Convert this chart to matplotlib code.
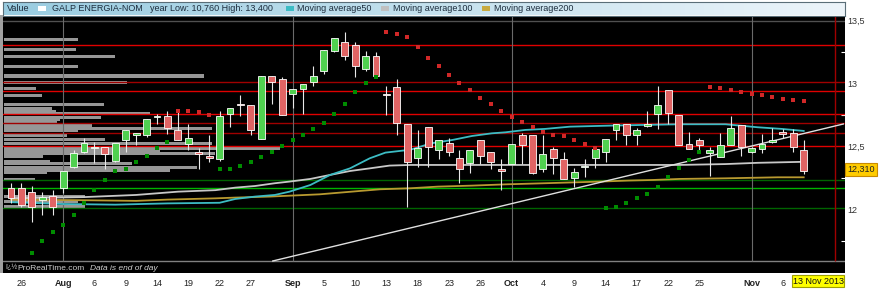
import matplotlib
matplotlib.use('Agg')
import matplotlib.pyplot as plt
from matplotlib.patches import Rectangle
import numpy as np

plt.rcParams['font.family'] = ['Liberation Sans', 'DejaVu Sans']

# GALP ENERGIA-NOM, daily candles 25 Jul 2013 .. 8 Nov 2013 (index = trading day)
opens = [12.17, 12.17, 12.14, 12.08, 12.11, 12.17, 12.34, 12.46, 12.49, 12.50,
         12.39, 12.55, 12.59, 12.59, 12.735, 12.74, 12.63, 12.52, 12.46, 12.43,
         12.40, 12.76, 12.84, 12.83, 12.56, 13.06, 13.04, 12.92, 12.96, 13.01,
         13.10, 13.26, 13.33, 13.31, 13.12, 13.22, 12.92, 12.97, 12.68, 12.41,
         12.66, 12.47, 12.53, 12.41, 12.37, 12.55, 12.46, 12.32, 12.36, 12.59,
         12.59, 12.32, 12.48, 12.40, 12.25, 12.34, 12.41, 12.46, 12.63, 12.68,
         12.59, 12.665, 12.76, 12.95, 12.75, 12.52, 12.55, 12.45, 12.42, 12.51,
         12.67, 12.455, 12.48, 12.535, 12.62, 12.61, 12.47]
highs = [12.21, 12.21, 12.19, 12.14, 12.16, 12.31, 12.47, 12.57, 12.54, 12.50,
         12.53, 12.63, 12.61, 12.72, 12.76, 12.78, 12.78, 12.68, 12.49, 12.59,
         12.78, 12.81, 12.91, 12.83, 13.06, 13.06, 13.05, 12.96, 13.00, 13.14,
         13.27, 13.36, 13.41, 13.33, 13.26, 13.25, 12.98, 13.04, 12.68, 12.63,
         12.66, 12.55, 12.57, 12.47, 12.47, 12.55, 12.46, 12.40, 12.52, 12.61,
         12.59, 12.59, 12.50, 12.46, 12.33, 12.40, 12.50, 12.56, 12.68, 12.68,
         12.65, 12.78, 12.98, 12.95, 12.75, 12.62, 12.57, 12.50, 12.61, 12.74,
         12.67, 12.50, 12.60, 12.65, 12.64, 12.64, 12.55]
lows = [12.05, 12.02, 11.90, 11.96, 11.96, 12.13, 12.33, 12.45, 12.37, 12.32,
        12.38, 12.46, 12.51, 12.58, 12.68, 12.60, 12.55, 12.47, 12.32, 12.38,
        12.39, 12.66, 12.74, 12.59, 12.56, 12.84, 12.75, 12.81, 12.76, 12.98,
        13.08, 13.25, 13.19, 13.05, 13.10, 13.05, 12.75, 12.59, 12.02, 12.34,
        12.34, 12.40, 12.43, 12.21, 12.29, 12.36, 12.32, 12.16, 12.36, 12.36,
        12.28, 12.30, 12.28, 12.24, 12.18, 12.26, 12.33, 12.38, 12.55, 12.51,
        12.51, 12.66, 12.64, 12.68, 12.51, 12.48, 12.45, 12.27, 12.42, 12.51,
        12.43, 12.45, 12.45, 12.53, 12.57, 12.46, 12.28]
closes = [12.09, 12.04, 12.02, 12.10, 12.02, 12.31, 12.45, 12.53, 12.50, 12.44,
          12.53, 12.63, 12.61, 12.72, 12.742, 12.65, 12.55, 12.57, 12.44, 12.41,
          12.74, 12.81, 12.83, 12.63, 13.06, 13.01, 12.75, 12.96, 13.00, 13.06,
          13.27, 13.36, 13.22, 13.14, 13.22, 13.06, 12.91, 12.69, 12.38, 12.49,
          12.50, 12.55, 12.46, 12.32, 12.47, 12.43, 12.38, 12.31, 12.52, 12.51,
          12.29, 12.44, 12.41, 12.24, 12.30, 12.345, 12.48, 12.56, 12.68, 12.59,
          12.63, 12.68, 12.83, 12.77, 12.51, 12.48, 12.51, 12.47, 12.51, 12.65,
          12.50, 12.49, 12.52, 12.553, 12.60, 12.50, 12.31]

# parabolic SAR
sar = [None, None, 11.656, 11.749, 11.82, 11.881, 11.96, 12.056, 12.156, 12.236,
       12.307, 12.32, 12.379, 12.429, 12.487, 12.54, 12.786, 12.786, 12.778, 12.752,
       12.32, 12.325, 12.347, 12.379, 12.416, 12.46, 12.508, 12.556, 12.593, 12.638,
       12.686, 12.76, 12.839, 12.932, 13.008, 13.056, 13.408, 13.394, 13.368, 13.289,
       13.206, 13.14, 13.069, 13.003, 12.95, 12.889, 12.839, 12.786, 12.738, 12.698,
       12.656, 12.62, 12.593, 12.585, 12.551, 12.519, 12.492, 12.016, 12.024, 12.051,
       12.09, 12.125, 12.178, 12.26, 12.328, 12.395, 12.456, 12.977, 12.963, 12.947,
       12.934, 12.921, 12.908, 12.895, 12.881, 12.873, 12.86]

ma50_idx = [0, 5, 10, 15, 20, 21.5, 23.4, 25.3, 26.7, 28.7, 30.6, 32.5, 34.4, 35.9, 38.3,
            40.3, 42.3, 44.2, 46.1, 47.4, 49.3, 51.2, 53.6, 57.4, 60.3, 64.1, 68.5, 71.6, 73.9, 76]
ma50_val = [12.06, 12.045, 12.04, 12.05, 12.055, 12.085, 12.104, 12.117, 12.143, 12.196,
            12.276, 12.328, 12.408, 12.453, 12.476, 12.527, 12.553, 12.585, 12.606, 12.614,
            12.633, 12.641, 12.659, 12.667, 12.672, 12.678, 12.678, 12.654, 12.641, 12.625]
ma100_idx = [0, 7, 12, 14, 16, 19.6, 21.5, 23.4, 25.3, 26.7, 28.7, 30.6, 32.5, 34.4, 36.3,
             38.3, 64, 68.5, 71.6, 76]
ma100_val = [12.09, 12.10, 12.117, 12.13, 12.143, 12.155, 12.175, 12.188, 12.21, 12.223,
             12.244, 12.276, 12.307, 12.328, 12.35, 12.355, 12.355, 12.362, 12.372, 12.38]
ma200_idx = [0, 7, 12, 15, 19.6, 21.5, 24.8, 29.6, 33.5, 35.4, 38.3, 40.9, 44.2, 47.4,
             51.2, 56.5, 59.1, 61.6, 64.1, 68.5, 73.5, 76]
ma200_val = [12.08, 12.075, 12.07, 12.08, 12.09, 12.096, 12.104, 12.122, 12.149, 12.162,
             12.17, 12.183, 12.191, 12.201, 12.21, 12.223, 12.231, 12.236, 12.244, 12.249,
             12.257, 12.257]

# volume at price profile (left side)
profile_price = [13.352, 13.275, 13.214, 13.14, 13.061, 13.008, 12.963, 12.908, 12.831, 12.805,
                 12.778, 12.76, 12.733, 12.712, 12.69, 12.672, 12.648, 12.627, 12.585, 12.559,
                 12.529, 12.487, 12.46, 12.446, 12.426, 12.381, 12.368, 12.337, 12.311, 12.299,
                 12.236, 12.101, 12.065, 12.029]
profile_vol = [74, 72, 111, 74, 200, 123, 32, 38, 100, 48,
               52, 146, 97, 56, 53, 88, 208, 74, 63, 101,
               208, 276, 156, 211, 39, 46, 128, 193, 166, 43,
               31, 81, 74, 81]

resist_levels = [13.307, 12.944, 12.757, 12.508]
resist_dark = [13.011, 12.686, 12.611]
support_levels = [12.170]
support_dark = [12.236, 12.016]

trend_x = [25.1, 79.8]
trend_y = [11.593, 12.68]

tick_pos = [1, 5, 8, 11, 14, 17, 20, 23, 27, 30, 33, 36, 39, 42, 45, 48, 51, 54, 57, 60, 63, 66, 71, 74]
tick_lab = ['26', 'Aug', '6', '9', '14', '19', '22', '27', 'Sep', '5', '10', '13', '18', '23', '26',
            'Oct', '4', '9', '14', '17', '22', '25', 'Nov', '6']
month_starts = [5, 27, 48, 71]
last_idx = 79
last_price = 12.31

W, H = 880, 290


def fx(x):
    return x / W


def fy(y):
    return 1 - y / H


fig = plt.figure(figsize=(8.8, 2.9), dpi=100)
fig.patch.set_facecolor('white')

ax = fig.add_axes([fx(3), fy(273), fx(845) - fx(3), fy(15) - fy(273)])
ax.set_facecolor('black')
ax.set_xlim(-0.767, 79.96)
ax.set_ylim(11.4976, 13.545)
panel_bottom = 11.593

# profile bars
ax.barh(profile_price, np.array(profile_vol) / 10.43, left=-0.67, height=0.024,
        color='#969696', edgecolor='none', zorder=1)

for v in resist_levels:
    ax.axhline(v, color='#e00000', lw=1, zorder=2)
for v in resist_dark:
    ax.axhline(v, color='#a00000', lw=1, zorder=2)
for v in support_levels:
    ax.axhline(v, color='#00b400', lw=1, zorder=2)
for v in support_dark:
    ax.axhline(v, color='#006400', lw=1, zorder=2)

ax.axhline(13.5, color='#505050', lw=1, zorder=2)
ax.axhline(panel_bottom, color='#808080', lw=1, zorder=2)
ax.vlines(month_starts, panel_bottom, 13.545, color='#6a6a6a', lw=0.8, zorder=2)
ax.vlines([last_idx], panel_bottom, 13.545, color='#a00000', lw=1, zorder=2)

ax.plot(ma200_idx, ma200_val, color='#b89a30', lw=1.3, zorder=3)
ax.plot(ma100_idx, ma100_val, color='#c8c8c8', lw=1.3, zorder=3)
ax.plot(ma50_idx, ma50_val, color='#3cbcc4', lw=1.3, zorder=3)
ax.plot(trend_x, trend_y, color='#e0e0e0', lw=1, zorder=3)

# candles
o = np.array(opens)
h = np.array(highs)
l = np.array(lows)
c = np.array(closes)
idx = np.arange(len(o))
up = c >= o
body_lo = np.minimum(o, c)
body_h = np.maximum(np.abs(c - o), 0.01)
ax.vlines(idx, l, h, color='#e8e8e8', lw=0.8, zorder=5)
ax.bar(idx[up], body_h[up], bottom=body_lo[up], width=0.66, color='#50d050',
       edgecolor='white', lw=0.6, zorder=6)
ax.bar(idx[~up], body_h[~up], bottom=body_lo[~up], width=0.66, color='#e06464',
       edgecolor='white', lw=0.6, zorder=6)

# SAR dots
s = np.array([np.nan if v is None else v for v in sar])
above = s > (o + c) / 2
ax.plot(idx[above], s[above], 's', color='#d02828', ms=2.7, mew=0, zorder=7)
ax.plot(idx[~above], s[~above], 's', color='#008c00', ms=2.7, mew=0, zorder=7)

for sp in ax.spines.values():
    sp.set_visible(False)

ax.yaxis.tick_right()
ax.set_yticks([12, 12.5, 13, 13.5])
ax.set_yticklabels(['12', '12,5', '13', '13,5'])
ax.set_yticks([11.75, 12.25, 12.75, 13.25], minor=True)
ax.tick_params(axis='y', which='major', length=0, pad=2, labelsize=6.5, labelcolor='#333333')
ax.tick_params(axis='y', which='minor', direction='in', length=3, color='white', width=0.8,
               right=True, left=False)

ax.set_xticks(tick_pos)
ax.set_xticklabels(tick_lab)
ax.tick_params(axis='x', length=0, pad=4, labelsize=6.5, labelcolor='#222222')
for t in ax.get_xticklabels():
    if t.get_text() in ('Aug', 'Sep', 'Oct', 'Nov'):
        t.set_fontweight('bold')

# watermark
fig.text(fx(5), fy(268), 'ï¿½', color='#d0d0d0', fontsize=5, va='center')
fig.text(fx(17), fy(268), 'ProRealTime.com', color='#d0d0d0', fontsize=6, va='center')
fig.text(fx(90), fy(268), 'Data is end of day', color='#d0d0d0', fontsize=6,
         va='center', style='italic')

# left strip
fig.patches.append(Rectangle((0, fy(273)), fx(3), fy(15) - fy(273), transform=fig.transFigure,
                             facecolor='#a0a0a0', edgecolor='none'))

# header bar
hdr = fig.add_axes([fx(3), fy(15.5), fx(845) - fx(3), fy(2) - fy(15.5)])
grad = np.linspace(0, 1, 256).reshape(1, -1)
c0 = np.array([0.60, 0.80, 0.88])
c1 = np.array([0.93, 0.96, 0.98])
img = c0[None, None, :] + (c1 - c0)[None, None, :] * grad[:, :, None]
hdr.imshow(img, aspect='auto', extent=[0, 1, 0, 1])
hdr.set_xticks([])
hdr.set_yticks([])
for sp in hdr.spines.values():
    sp.set_color('#5a6e78')
    sp.set_linewidth(0.8)

hy = fy(8.8)
tc = '#1c2c3c'
fig.text(fx(7), hy, 'Value', color=tc, fontsize=6.5, va='center')
fig.text(fx(52), hy, 'GALP ENERGIA-NOM', color=tc, fontsize=6.5, va='center')
fig.text(fx(150), hy, 'year Low: 10,760 High: 13,400', color=tc, fontsize=6.5, va='center')
fig.text(fx(297), hy, 'Moving average50', color=tc, fontsize=6.5, va='center')
fig.text(fx(393), hy, 'Moving average100', color=tc, fontsize=6.5, va='center')
fig.text(fx(494), hy, 'Moving average200', color=tc, fontsize=6.5, va='center')
for x0, col in [(38, 'white'), (286, '#3cbcc4'), (381, '#c0c0c0'), (482, '#c8aa40')]:
    fig.patches.append(Rectangle((fx(x0), fy(10.5)), fx(8), 4 / H, transform=fig.transFigure,
                                 facecolor=col, edgecolor='none'))

# last price box and date box
fig.patches.append(Rectangle((fx(845), fy(176)), fx(32), 13 / H, transform=fig.transFigure,
                             facecolor='#ffcc00', edgecolor='#c88a00', lw=0.8))
fig.text(fx(861), fy(169.5), f'{last_price:.3f}'.replace('.', ','), color='#222222',
         fontsize=6.5, ha='center', va='center')
fig.patches.append(Rectangle((fx(792), fy(287)), fx(52), 12 / H, transform=fig.transFigure,
                             facecolor='#ffff00', edgecolor='#a0a000', lw=0.8))
fig.text(fx(818), fy(281), '13 Nov 2013', color='#111111', fontsize=6.5, ha='center', va='center')

fig.savefig('out.png', dpi=100, facecolor='white')
